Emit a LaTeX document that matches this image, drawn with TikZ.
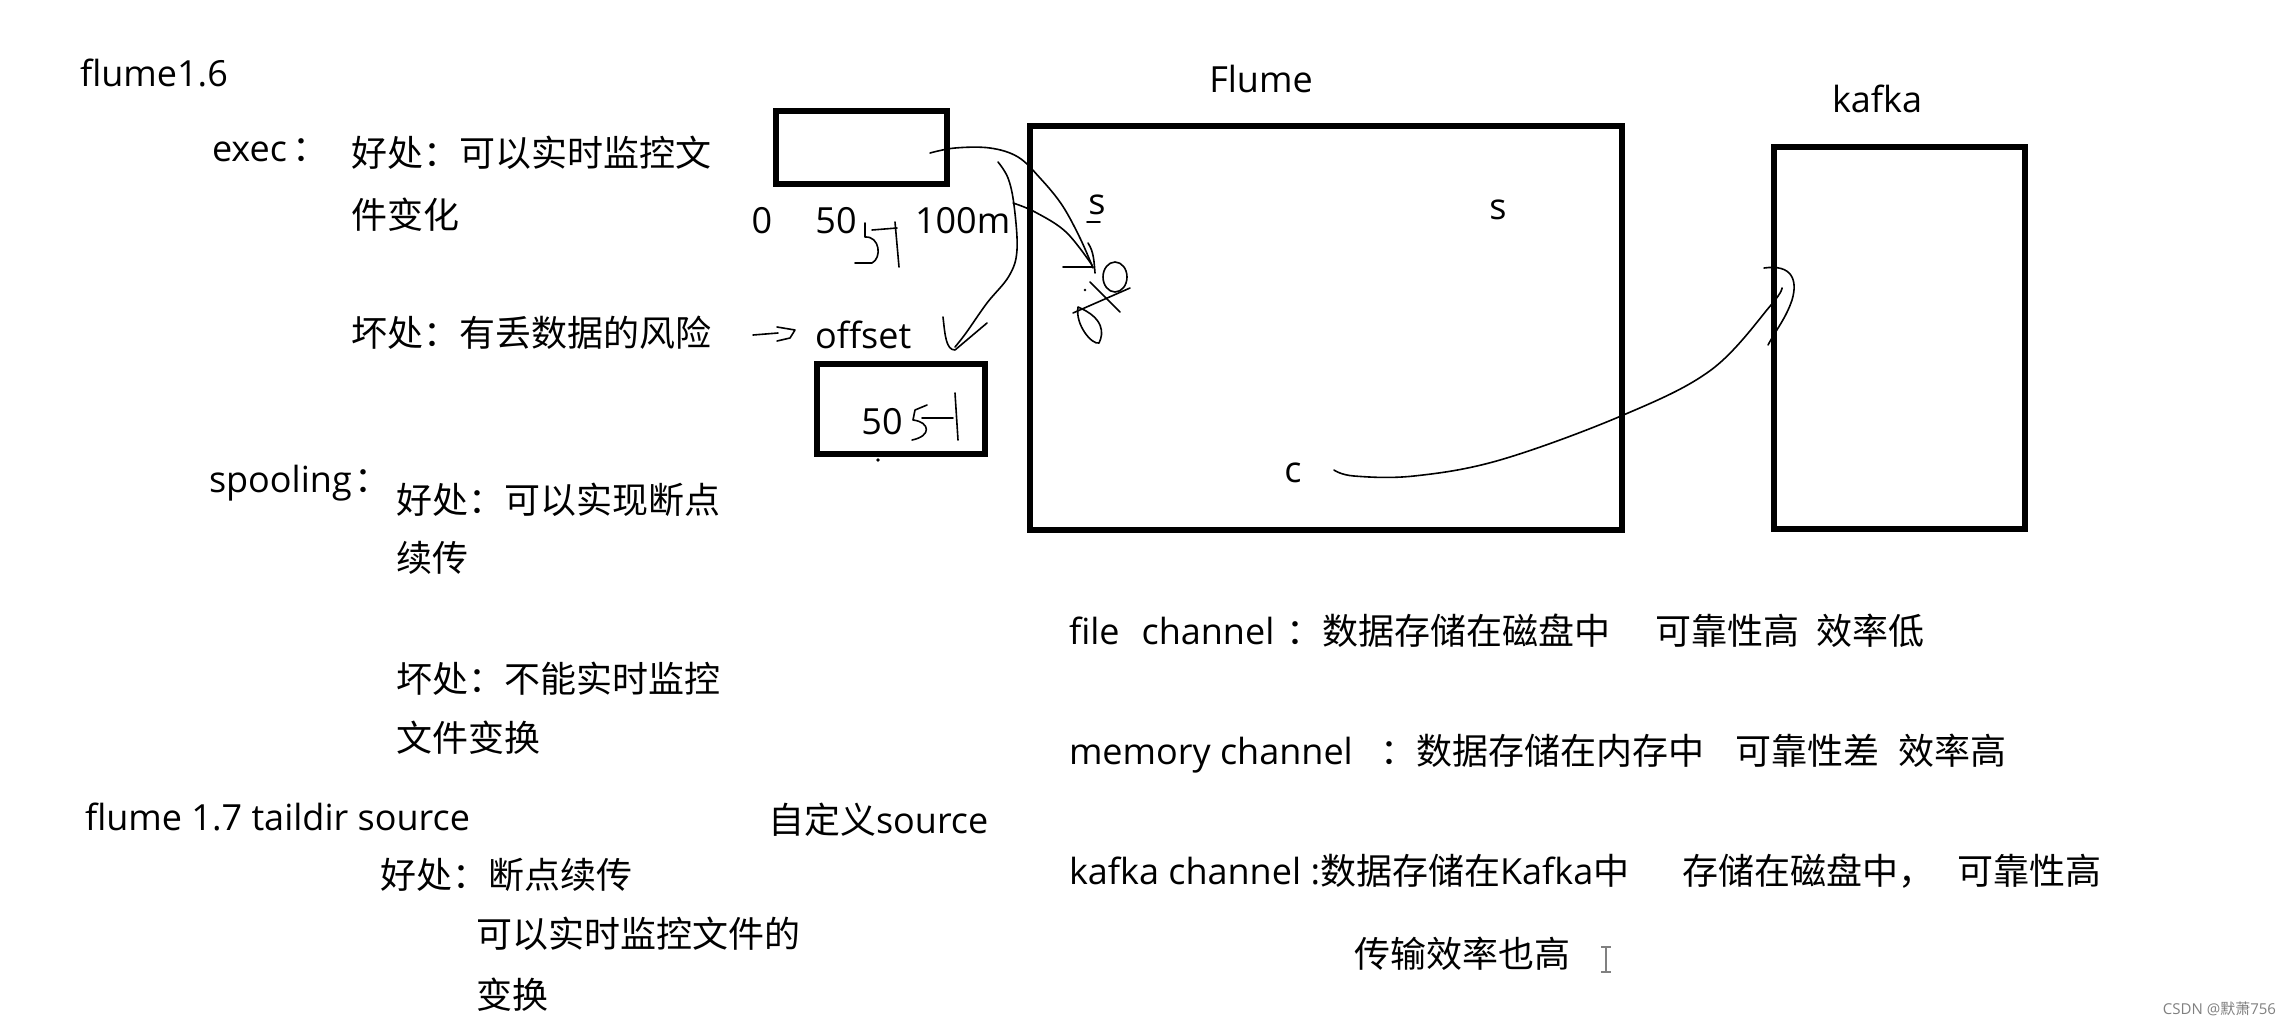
\documentclass[tikz,border=0pt]{standalone}
\usepackage{fontspec}
\setmainfont{Open Sans}
\newfontfamily\zh{Noto Sans CJK SC}
\begin{document}
\begin{tikzpicture}[x=1pt,y=-1pt,
  txt/.style={inner sep=0pt, outer sep=0pt, anchor=base west, font=\fontsize{36}{40}\selectfont},
  ctxt/.style={txt, anchor=base},
  box/.style={draw, line width=6.5pt, inner sep=0pt, minimum width=#1},
  hand/.style={line width=1.6pt, line cap=round, line join=round},
]
\fill[white] (0,0) rectangle (2291,1026);
\useasboundingbox (0,0) rectangle (2291,1026);

% ---------- left column ----------
\node[txt] (f16) at (80,86) {flume1.6};
\node[txt] (exec) at (212,161) {exec\hspace{6pt}{\zh ：}};
\node[txt] (good1a) at (351,166) {\zh 好处：可以实时监控文};
\node[txt] (good1b) at (351,228) {\zh 件变化};
\node[txt] (bad1) at (351,346) {\zh 坏处：有丢数据的风险};

\node[txt] (spool) at (209,492) {spooling\hspace{3pt}{\zh ：}};
\node[txt] (good2a) at (396,513) {\zh 好处：可以实现断点};
\node[txt] (good2b) at (396,571) {\zh 续传};
\node[txt] (bad2a) at (396,692) {\zh 坏处：不能实时监控};
\node[txt] (bad2b) at (396,751) {\zh 文件变换};

\node[txt] (f17) at (85,830) {flume 1.7 taildir source};
\node[txt] (custom) at (768,833) {{\zh 自定义}source};
\node[txt] (good3a) at (380,888) {\zh 好处：断点续传};
\node[txt] (good3b) at (476,947) {\zh 可以实时监控文件的};
\node[txt] (good3c) at (476,1008) {\zh 变换};

% ---------- file / offset sketch ----------
\node[box=171pt, minimum height=73pt] (file) at (861.5,147.5) {};
\node[ctxt] (n0) at (762,233) {0};
\node[ctxt] (n50) at (836,233) {50};
\node[txt] (n100) at (915,233) {100m};
\node[txt] (offset) at (815,348) {offset};
\node[box=168pt, minimum height=90pt] (offbox) at (901,409) {};
\node[ctxt] (n50b) at (882,434) {50};

% ---------- Flume / kafka ----------
\node[ctxt] (flumelbl) at (1261,92) {Flume};
\node[box=592pt, minimum height=404pt] (flume) at (1326,328) {};
\node[ctxt] (s1) at (1097,214) {s};
\node[ctxt] (s2) at (1498,219) {s};
\node[ctxt] (c) at (1293,482) {c};
\node[ctxt] (kafkalbl) at (1877,112) {kafka};
\node[box=251pt, minimum height=382pt] (kafka) at (1899.5,338) {};

% ---------- channel notes ----------
\node[txt] (fch) at (1069,644) {\makebox[586pt][l]{\makebox[217pt][l]{file\hspace{22pt}channel}{\zh ：数据存储在磁盘中}}{\zh 可靠性高}\hspace{17pt}{\zh 效率低}};
\node[txt] (mch) at (1069,764) {\makebox[667pt][l]{\makebox[311pt][l]{memory channel}{\zh ：数据存储在内存中}}{\zh 可靠性差}\hspace{19pt}{\zh 效率高}};
\node[txt] (kch) at (1069,884) {\makebox[614pt][l]{kafka channel :{\zh 数据存储在}Kafka{\zh 中}}{\zh 存储在磁盘中，}\hspace{23pt}{\zh 可靠性高}};
\node[txt] (kch2) at (1354,967) {\zh 传输效率也高};

% text cursor
\draw[gray, line width=2pt] (1606,947) -- (1606,972);
\draw[gray, line width=1.6pt] (1601,947) -- (1611,947) (1601,972) -- (1611,972);

% watermark
\node[txt, anchor=base east, font=\fontsize{15}{18}\selectfont, text=gray] (wm) at (2276,1014) {CSDN @{\zh 默萧}756};

% ---------- handwriting ----------
% arrow before offset
\draw[hand] (753,335) -- (778,333);
\draw[hand] (777,327) -- (795,330) -- (790,338) -- (777,341);
% 5 + after first 50
\draw[hand] (865,223) -- (865,237) .. controls (880,236) and (882,258) .. (872,263) -- (855,263);
\draw[hand] (872,230) -- (897,228);
\draw[hand] (895,222) -- (899,267);
% 5 + inside offset box
\draw[hand] (927,405) -- (915,410) -- (913,420) .. controls (930,422) and (932,436) .. (912,440);
\draw[hand] (922,418) -- (953,418);
\draw[hand] (955,393) -- (958,440);
\fill (878,460) circle (1.8pt);

% curve from file into Flume source
\draw[hand] plot[smooth, tension=0.6] coordinates {(930,153) (955,148) (990,148) (1018,157) (1040,178) (1062,205) (1080,238) (1093,268)};
\draw[hand] plot[smooth, tension=0.6] coordinates {(1013,203) (1035,212) (1066,232) (1092,265)};
% curve from file down to offset (V)
\draw[hand] plot[smooth, tension=0.6] coordinates {(998,162) (1008,178) (1014,205) (1017,250) (1009,276) (987,303) (966,333) (955,347)};
\draw[hand] (943,317) .. controls (945,335) and (946,350) .. (955,350) -- (987,323);
% scribble near s
\draw[hand] (1087,222) -- (1100,222);
\draw[hand] (1063,267) -- (1093,267);
\draw[hand] (1088,243) .. controls (1094,252) and (1094,262) .. (1095,273);
\draw[hand] (1115,277) ellipse (12pt and 15pt);
\draw[hand] (1090,282) -- (1120,312);
\draw[hand] (1073,313) -- (1130,288);
\draw[hand] (1078,307) .. controls (1075,325) and (1092,345) .. (1099,343) .. controls (1104,333) and (1104,318) .. (1078,307);
\fill (1085,290) circle (1.3pt);

% curve from channel c into kafka
\draw[hand] plot[smooth, tension=0.6] coordinates {(1334,470) (1354,476) (1414,476) (1500,460) (1621,416) (1711,370) (1771,305) (1782,288)};
\draw[hand] (1764,268) .. controls (1792,264) and (1798,280) .. (1792,300) .. controls (1786,318) and (1776,330) .. (1768,345);
\end{tikzpicture}
\end{document}
